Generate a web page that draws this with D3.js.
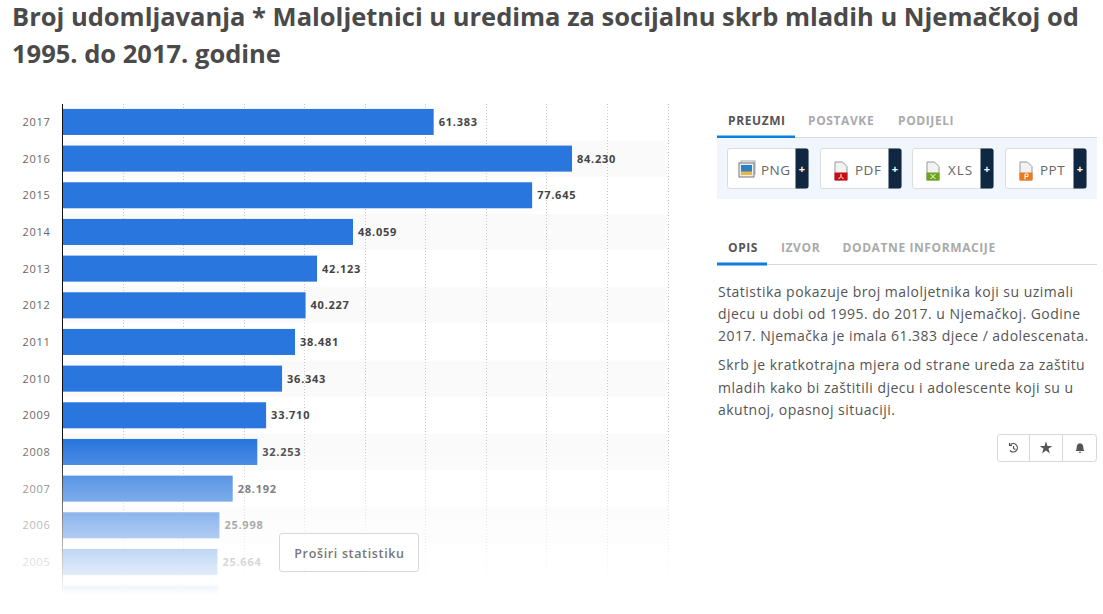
<!DOCTYPE html>
<html><head><meta charset="utf-8">
<script src="https://cdn.jsdelivr.net/npm/d3@7"></script>
<style>
html,body{margin:0;padding:0;background:#fff;overflow:hidden}
svg{display:block}
text{font-family:"Open Sans",sans-serif}
</style></head><body>
<svg id="c" width="1103" height="614"></svg>
<script>
const years = ["2017","2016","2015","2014","2013","2012","2011","2010","2009","2008","2007","2006","2005","2004"];
const values = [61383,84230,77645,48059,42123,40227,38481,36343,33710,32253,28192,25998,25664,25850];
const hiddenLabelYears = ["2004"];
const xTicks = [10000,20000,30000,40000,50000,60000,70000,80000,90000,100000];
const titleLines = ["Broj udomljavanja * Maloljetnici u uredima za socijalnu skrb mladih u Njemačkoj od","1995. do 2017. godine"];
const topTabs = ["PREUZMI","POSTAVKE","PODIJELI"];
const infoTabs = ["OPIS","IZVOR","DODATNE INFORMACIJE"];
const formats = ["PNG","PDF","XLS","PPT"];
const formatColors = ["#2f7fc4","#c40f14","#6aa51c","#ee7a1c"];
const para1 = ["Statistika pokazuje broj maloljetnika koji su uzimali","djecu u dobi od 1995. do 2017. u Njemačkoj. Godine","2017. Njemačka je imala 61.383 djece / adolescenata."];
const para2 = ["Skrb je kratkotrajna mjera od strane ureda za zaštitu","mladih kako bi zaštitili djecu i adolescente koji su u","akutnoj, opasnoj situaciji."];

const svg = d3.select("#c");
const loc = d3.formatLocale({decimal:",",thousands:".",grouping:[3],currency:["","€"]});
const fmt = loc.format(",d");

const x = d3.scaleLinear().domain([0,100000]).range([62,667.5]);
const y = d3.scaleBand().domain(years).range([103.6,103.6+14*36.67]).paddingInner(.29).paddingOuter(.145);

// title
svg.append("g").selectAll("text").data(titleLines).join("text")
  .attr("x",12).attr("y",(d,i)=>26+i*37).attr("font-size",25.5).attr("font-weight",700).attr("fill","#4a4a4a").text(d=>d);

// stripes
svg.append("g").selectAll("rect").data(years.filter((d,i)=>i%2==1)).join("rect")
  .attr("x",62).attr("width",606)
  .attr("y",d=>y(d)-5).attr("height",y.bandwidth()+10).attr("fill","#fafafa");

// grid
svg.append("g").selectAll("line").data(xTicks).join("line")
  .attr("x1",d=>Math.round(x(d))+.5).attr("x2",d=>Math.round(x(d))+.5)
  .attr("y1",104).attr("y2",592)
  .attr("stroke","#c8c8c8").attr("stroke-dasharray","1,2");

// bars
svg.append("g").selectAll("rect").data(years).join("rect")
  .attr("x",x(0)).attr("y",d=>y(d)).attr("height",y.bandwidth())
  .attr("width",(d,i)=>x(values[i])-x(0)).attr("fill","#2976de");

// value labels
svg.append("g").selectAll("text").data(years.filter(d=>!hiddenLabelYears.includes(d))).join("text")
  .attr("x",d=>x(values[years.indexOf(d)])+5).attr("y",d=>y(d)+y.bandwidth()/2+4)
  .attr("font-size",11).attr("font-weight",700).attr("letter-spacing",".75").attr("fill","#444")
  .text(d=>fmt(values[years.indexOf(d)]));

// year axis
const axis = svg.append("g").attr("transform","translate(62.5,0.6)")
  .call(d3.axisLeft(y).tickSize(0).tickPadding(12).tickFormat(d=>hiddenLabelYears.includes(d)?"":d));
axis.select(".domain").remove();
axis.selectAll("text").attr("font-family","'Open Sans',sans-serif").attr("font-size",11).attr("letter-spacing",".7").attr("fill","#666");
svg.append("line").attr("x1",62.5).attr("x2",62.5).attr("y1",104).attr("y2",592).attr("stroke","#111").attr("stroke-width",1);

// fade overlay
const defs = svg.append("defs");
const g = defs.append("linearGradient").attr("id","fade").attr("x1",0).attr("x2",0).attr("y1",0).attr("y2",1);
g.append("stop").attr("offset",0).attr("stop-color","#fff").attr("stop-opacity",0);
g.append("stop").attr("offset",1).attr("stop-color","#fff").attr("stop-opacity",1);
svg.append("rect").attr("x",0).attr("y",440).attr("width",700).attr("height",156).attr("fill","url(#fade)");
svg.append("rect").attr("x",0).attr("y",596).attr("width",700).attr("height",18).attr("fill","#fff");

// expand button
svg.append("rect").attr("x",279.5).attr("y",533.5).attr("width",139).attr("height",38).attr("rx",2.5)
  .attr("fill","#fff").attr("stroke","#d8d8d8");
svg.append("text").attr("x",349.5).attr("y",558).attr("text-anchor","middle").attr("font-size",12.5)
  .attr("font-weight",600).attr("letter-spacing",".65").attr("fill","#777").text("Proširi statistiku");

// tabs helper
function tabs(labels, xs, yText, yLine, w){
  svg.append("line").attr("x1",717).attr("x2",1097).attr("y1",yLine+.5).attr("y2",yLine+.5).attr("stroke","#d8d8d8");
  svg.append("rect").attr("x",717).attr("y",yLine-1.5).attr("width",w).attr("height",3).attr("fill","#0a7fe0");
  svg.append("g").selectAll("text").data(labels).join("text")
    .attr("x",(d,i)=>xs[i]).attr("y",yText).attr("font-size",12).attr("font-weight",700)
    .attr("letter-spacing",".6").attr("fill",(d,i)=>i==0?"#555":"#aaa").text(d=>d);
}
tabs(topTabs,[728,808,898],125,137,78);
tabs(infoTabs,[728,781,842.5],252,264,50);

// download panel
svg.append("rect").attr("x",717).attr("y",138).attr("width",380).attr("height",61).attr("fill","#f0f6fc");
const btnX = [727.5,820.5,912.5,1005.5];
const btn = svg.append("g").selectAll("g").data(formats).join("g").attr("transform",(d,i)=>`translate(${btnX[i]},148.5)`);
btn.append("rect").attr("width",81).attr("height",40).attr("rx",2.5).attr("fill","#fff").attr("stroke","#dcdcdc");
btn.append("path").attr("d","M68 0H78.5a2.5 2.5 0 0 1 2.5 2.5V37.5a2.5 2.5 0 0 1 -2.5 2.5H68Z").attr("fill","#0f2740");
btn.append("text").attr("x",74.5).attr("y",24).attr("text-anchor","middle").attr("font-size",11).attr("font-weight",700).attr("fill","#fff").text("+");
btn.append("text").attr("x",(d,i)=>i==0?33.5:i==2?35.5:34.5).attr("y",26).attr("font-size",13.5).attr("letter-spacing",(d,i)=>i==2?".9":".5").attr("fill","#666").text(d=>d);
btn.each(function(d,i){
  const s = d3.select(this);
  if(i==0){
    s.append("rect").attr("x",13.5).attr("y",12.5).attr("width",14).attr("height",13).attr("fill","#f4f4f4").attr("stroke","#aaa");
    s.append("rect").attr("x",11.5).attr("y",14.5).attr("width",15).attr("height",14).attr("fill","#eee").attr("stroke","#777");
    s.append("rect").attr("x",13.5).attr("y",16.5).attr("width",11).attr("height",10).attr("fill",formatColors[0]);
    s.append("rect").attr("x",13.5).attr("y",23).attr("width",11).attr("height",3.5).attr("fill","#e8b93c");
  } else {
    s.append("path").attr("d","M14.5 13.5H22L26.5 18V31.5H14.5Z").attr("fill","#f2f2f2").attr("stroke","#999");
    s.append("rect").attr("x",14).attr("y",24).attr("width",13).attr("height",8).attr("fill",formatColors[i]);
    s.append("path").attr("d",i==2?"M18 25.5L23 30.5M23 25.5L18 30.5":i==1?"M20.5 25.5V28L18 30.5M20.5 28L23 30.5":"M19.5 31V25.5H22.5V28H19.5").attr("fill","none").attr("stroke","#fff");
  }
});

// paragraphs
svg.append("g").selectAll("text").data(para1).join("text").attr("x",718).attr("y",(d,i)=>297+i*22)
  .attr("font-size",14).attr("letter-spacing",".47").attr("fill","#555").text(d=>d);
svg.append("g").selectAll("text").data(para2).join("text").attr("x",718).attr("y",(d,i)=>370+i*22.5)
  .attr("font-size",14).attr("letter-spacing",".47").attr("fill","#555").text(d=>d);

// action buttons
svg.append("rect").attr("x",997.5).attr("y",434.5).attr("width",99).attr("height",27).attr("rx",3).attr("fill","#fff").attr("stroke","#d8d8d8");
svg.append("line").attr("x1",1029.5).attr("x2",1029.5).attr("y1",434.5).attr("y2",461.5).attr("stroke","#d8d8d8");
svg.append("line").attr("x1",1062.5).attr("x2",1062.5).attr("y1",434.5).attr("y2",461.5).attr("stroke","#d8d8d8");
svg.append("path").attr("transform","translate(1013.5,448)").attr("d","M-3 -3.5A4.2 4.2 0 1 1 -3.5 2.5M-4 -5V-2.5H-1.5M0 -2V0.5L2 1.5").attr("fill","none").attr("stroke","#555").attr("stroke-width",1.2);
svg.append("path").attr("transform","translate(1046,448)").attr("d",d3.symbol(d3.symbolStar,50)()).attr("fill","#555");
svg.append("path").attr("transform","translate(1080,448)").attr("d","M-4.5 3C-3 1.5 -3.5 -1 -3 -2.5C-2.5 -4 -1 -4.7 0 -4.7C1 -4.7 2.5 -4 3 -2.5C3.5 -1 3 1.5 4.5 3ZM-1.5 3.8H1.5L0 5.2Z").attr("fill","#555");
</script>
</body></html>
